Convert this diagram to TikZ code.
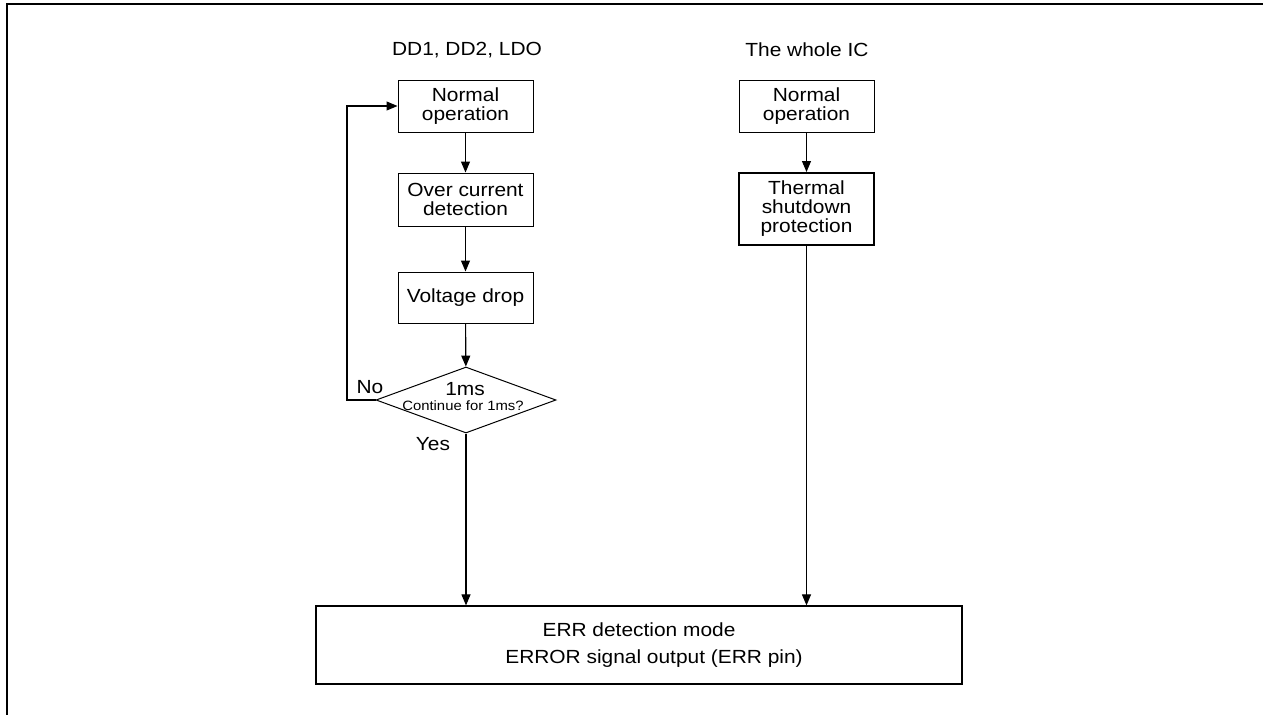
\documentclass[tikz,border=0pt]{standalone}
\usepackage{fontspec}
\setmainfont[FakeStretch=1.1]{Liberation Sans}
\usetikzlibrary{arrows.meta,shapes.geometric}

\begin{document}
\begin{tikzpicture}[x=1pt,y=-1pt,
	>={Triangle[length=11pt,width=9pt]},
	txt/.style={font=\fontsize{19}{19}\selectfont},
	box/.style={txt,draw,line width=1pt,minimum width=135pt,inner sep=0pt,align=center},
	flow/.style={->,line width=1.1pt}]

\useasboundingbox (0,0) rectangle (1263,715);
\draw[line width=2pt] (1263,4) -- (7,4) -- (7,715);

\node[txt,anchor=base] (HL) at (467,55) {DD1, DD2, LDO};
\node[txt,anchor=base] (HR) at (807,56) {The whole IC};

\node[box,minimum height=52pt] (NL) at (465.5,106) {Normal\\operation};
\node[box,minimum height=53pt] (OC) at (465.5,199.5) {Over current\\detection};
\node[box,minimum height=51pt] (VD) at (465.5,297.5) {Voltage drop};
\node[draw,diamond,line width=1pt,minimum width=180pt,minimum height=66pt,inner sep=0pt] (T) at (466,400) {};
\node[txt,anchor=base] at (465,395) {1ms};
\node[font=\fontsize{13.5}{13.5}\selectfont,anchor=base] at (463,410) {Continue for 1ms?};
\node[txt,anchor=base] (NO) at (370,393) {No};
\node[txt,anchor=base] (YES) at (433,450) {Yes};
\coordinate (L) at (347,400);

\node[box,minimum height=52pt] (NR) at (806.5,106) {Normal\\operation};
\node[box,line width=2pt,minimum height=72pt] (TS) at (806.5,209) {Thermal\\shutdown\\protection};

\node[draw,line width=1.2pt,minimum width=646pt,minimum height=78pt,inner sep=0pt,align=center,
	font=\fontsize{19}{27}\selectfont] (E) at (639,645)
	{ERR detection mode\\\hspace*{30pt}ERROR signal output (ERR pin)};

\path[flow]
	(NL) edge (OC)
	(OC) edge (VD)
	(VD) edge (T)
	(NR) edge (TS);
\draw[flow] (T.west) -- (L) |- (NL.west);
\draw[flow] (T.south) -- (T.south |- E.north);
\draw[flow] (TS) -- (TS |- E.north);

\end{tikzpicture}
\end{document}
